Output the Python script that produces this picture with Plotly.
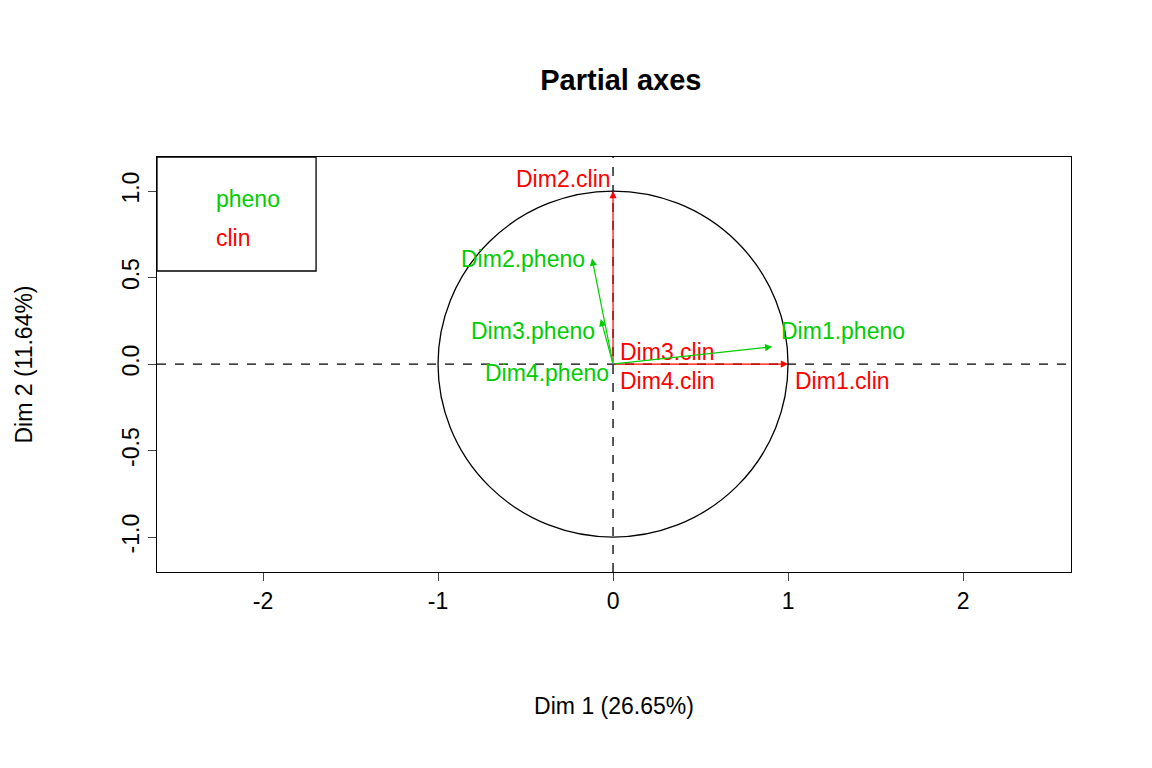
import plotly.graph_objects as go

# arrow tips (partial axes coordinates)
names = ["Dim1.clin", "Dim2.clin", "Dim3.clin", "Dim4.clin",
         "Dim1.pheno", "Dim2.pheno", "Dim3.pheno", "Dim4.pheno"]
xs = [1.0, 0.0, 0.01, 0.005, 0.91, -0.12, -0.07, -0.01]
ys = [0.0, 1.0, 0.005, -0.005, 0.10, 0.61, 0.26, 0.01]
groups = ["clin"] * 4 + ["pheno"] * 4
colors = {"clin": "#FF0000", "pheno": "#00CD00"}
# label anchors (x, y, xanchor)
lab_x = [1.03, 0.0, 0.03, 0.03, 0.95, -0.15, -0.09, -0.01]
lab_y = [-0.10, 1.07, 0.07, -0.10, 0.19, 0.61, 0.19, -0.05]
lab_anchor = ["left", "right", "left", "left", "left", "right", "right", "right"]

FONT = "Liberation Sans, Arial"
fig = go.Figure()
fig.add_trace(go.Scatter(x=[None], y=[None], showlegend=False))

for n, x, y, g, lx, ly, la in zip(names, xs, ys, groups, lab_x, lab_y, lab_anchor):
    c = colors[g]
    fig.add_annotation(x=x, y=y, ax=0, ay=0, xref="x", yref="y", axref="x", ayref="y",
                       showarrow=True, arrowhead=2, arrowsize=1.2, arrowwidth=1.2,
                       arrowcolor=c, text="")
    fig.add_annotation(x=lx, y=ly, text=n, showarrow=False, xanchor=la, yanchor="middle",
                       font=dict(size=23, color=c, family=FONT))

# unit circle and dashed axes
fig.add_shape(type="circle", x0=-1, x1=1, y0=-1, y1=1, line=dict(color="black", width=1.3))
fig.add_shape(type="line", x0=0, x1=0, y0=0, y1=1, xref="x", yref="paper",
              line=dict(color="black", width=1.3, dash="dash"), layer="below")
fig.add_shape(type="line", x0=0, x1=1, y0=0, y1=0, xref="paper", yref="y",
              line=dict(color="black", width=1.3, dash="dash"), layer="below")
# legend box
fig.add_shape(type="rect", x0=-2.606, x1=-1.697, y0=0.538, y1=1.197,
              line=dict(color="black", width=1.3))
fig.add_annotation(x=-2.28, y=0.955, text="pheno", showarrow=False, xanchor="left",
                   font=dict(size=23, color=colors["pheno"], family=FONT))
fig.add_annotation(x=-2.28, y=0.73, text="clin", showarrow=False, xanchor="left",
                   font=dict(size=23, color=colors["clin"], family=FONT))

fig.update_layout(
    width=1152, height=768, paper_bgcolor="white", plot_bgcolor="white",
    margin=dict(l=149, r=89, t=149, b=204), showlegend=False,
    font=dict(family=FONT, size=22, color="black"),
    title=dict(text="<b>Partial axes</b>", x=0.532, xanchor="center", y=0.906,
               yanchor="middle", font=dict(size=29, family=FONT)),
)
fig.update_xaxes(range=[-2.606, 2.617], tickvals=[-2, -1, 0, 1, 2],
                 ticktext=["-2", "-1", "0", "1", "2"], ticks="outside",
                 ticklen=8, showgrid=False, zeroline=False, showline=True, mirror=True,
                 linecolor="black", linewidth=1.3, tickfont=dict(size=23),
                 title=dict(text="Dim 1 (26.65%)", standoff=85, font=dict(size=23)))
fig.update_yaxes(range=[-1.202, 1.197], tickvals=[-1, -0.5, 0, 0.5, 1],
                 ticktext=["-1.0", "-0.5", "0.0", "0.5", "1.0"], tickangle=-90,
                 ticks="outside", ticklen=8, showgrid=False, zeroline=False,
                 showline=True, mirror=True, linecolor="black", linewidth=1.3,
                 tickfont=dict(size=23),
                 title=dict(text="Dim 2 (11.64%)", standoff=78, font=dict(size=23)))

fig.write_html("out.html")
